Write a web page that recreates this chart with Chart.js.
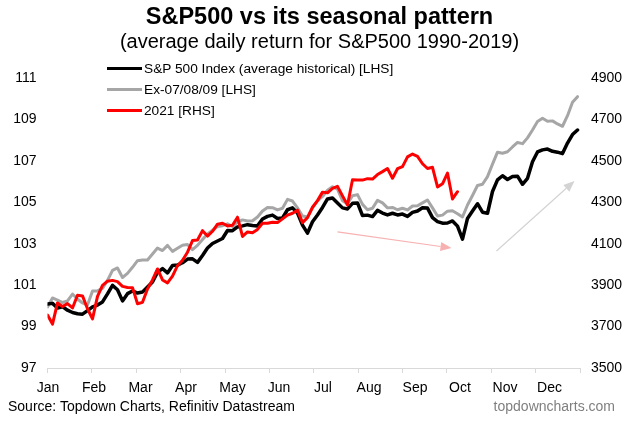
<!DOCTYPE html>
<html>
<head>
<meta charset="utf-8">
<script src="https://cdn.jsdelivr.net/npm/chart.js@4.4.1/dist/chart.umd.min.js"></script>
<style>
    body { margin: 0; background: #fff; }
    #wrap { position: relative; width: 633px; height: 423px; font-family: "Liberation Sans", Arial, sans-serif; color: #000; overflow: hidden; }
    #chart { position: absolute; left: 0; top: 0; }
    .title { position: absolute; left: 0; width: 639px; text-align: center; white-space: nowrap; }
    #title { top: 2px; font-size: 23.5px; font-weight: bold; line-height: 28px; }
    #subtitle { top: 29px; font-size: 20px; line-height: 24px; }
    #legend { position: absolute; left: 107px; top: 58px; font-size: 13.7px; }
    .item { height: 21px; display: flex; align-items: center; white-space: nowrap; }
    .swatch { width: 35px; height: 3px; margin-right: 2px; }
    .foot { position: absolute; top: 398px; font-size: 14px; line-height: 16px; white-space: nowrap; }
    #source { left: 8px; }
    #site { right: 18px; color: #7f7f7f; }
</style>
</head>
<body>
<div id="wrap">
    <canvas id="chart" width="633" height="423"></canvas>
    <div id="title" class="title">S&amp;P500 vs its seasonal pattern</div>
    <div id="subtitle" class="title">(average daily return for S&amp;P500 1990-2019)</div>
    <div id="legend"></div>
    <div id="source" class="foot">Source: Topdown Charts, Refinitiv Datastream</div>
    <div id="site" class="foot">topdowncharts.com</div>
</div>
<script>
const byId = id => document.getElementById(id);

// month names, where the axis tick marks sit and where the names sit (x index units)
const months = ["Jan", "Feb", "Mar", "Apr", "May", "Jun", "Jul", "Aug", "Sep", "Oct", "Nov", "Dec"];
const monthTicks = [0, 8.875, 17.75, 26.625, 35.5, 44.375, 53.25, 62.125, 71, 79.875, 88.75, 97.625, 106.5];
const monthLabelAt = [0.1, 9.3, 18.6, 27.7, 37.0, 46.3, 55.1, 64.3, 73.5, 82.5, 91.5, 100.4];

// S&P 500 seasonal average (LHS)
const avgHistorical = [
    100.09, 100.12, 99.90, 99.96, 99.79, 99.68, 99.62, 99.60, 99.77, 99.95,
    100.04, 100.19, 100.58, 100.99, 100.78, 100.24, 100.59, 100.72, 100.62, 100.67,
    100.91, 101.15, 101.62, 101.80, 101.59, 101.95, 101.97, 102.08, 102.26, 102.27,
    102.10, 102.43, 102.79, 103.01, 103.13, 103.25, 103.64, 103.63, 103.81, 103.86,
    103.92, 103.88, 103.86, 104.19, 104.32, 104.38, 104.22, 104.24, 104.64, 104.73,
    104.48, 103.90, 103.51, 104.06, 104.39, 104.75, 105.16, 105.21, 104.97, 104.73,
    104.68, 104.95, 104.97, 104.36, 104.38, 104.31, 104.61, 104.48, 104.39, 104.47,
    104.39, 104.43, 104.32, 104.51, 104.58, 104.74, 104.72, 104.26, 104.07, 103.99,
    104.00, 104.10, 103.85, 103.22, 104.22, 104.58, 104.93, 104.52, 104.47, 105.52,
    106.08, 106.28, 106.10, 106.24, 106.26, 105.87, 106.16, 106.96, 107.43, 107.53,
    107.57, 107.46, 107.42, 107.35, 107.86, 108.27, 108.49
];

// seasonal average excluding 2007/08/09 (LHS)
const ex070809 = [
    99.95, 100.38, 100.28, 100.16, 100.24, 100.57, 100.33, 100.14, 100.04, 100.72,
    100.72, 100.84, 101.23, 101.71, 101.83, 101.37, 101.57, 101.86, 102.18, 102.21,
    102.21, 102.50, 102.79, 102.67, 102.92, 102.63, 102.78, 102.93, 102.96, 102.71,
    102.92, 103.20, 103.47, 103.65, 103.83, 103.87, 103.96, 103.83, 104.05, 104.15,
    104.10, 104.11, 104.29, 104.58, 104.75, 104.74, 104.63, 104.71, 105.14, 105.06,
    104.73, 104.34, 104.29, 104.73, 105.07, 105.28, 105.58, 105.75, 105.63, 105.08,
    104.93, 105.32, 105.37, 104.90, 104.64, 104.71, 105.09, 104.97, 104.73, 104.75,
    104.64, 104.71, 104.63, 104.82, 104.83, 104.97, 105.11, 104.73, 104.34, 104.38,
    104.57, 104.59, 104.45, 104.29, 104.87, 105.33, 105.81, 105.87, 106.24, 106.84,
    107.42, 107.37, 107.44, 107.67, 107.89, 107.83, 108.11, 108.49, 108.90, 109.06,
    108.91, 108.93, 108.78, 108.67, 109.18, 109.83, 110.10
];

// 2021 S&P 500 level (RHS)
const y2021 = [
    3756, 3712, 3814, 3797, 3811, 3790, 3851, 3848, 3786, 3737,
    3846, 3899, 3919, 3923, 3917, 3894, 3889, 3888, 3810, 3817,
    3881, 3925, 3978, 3925, 3911, 3944, 3994, 4020, 4059, 4115,
    4118, 4163, 4137, 4160, 4194, 4199, 4186, 4189, 4228, 4135,
    4157, 4153, 4169, 4199, 4199, 4204, 4202, 4220, 4238, 4247,
    4262, 4202, 4226, 4276, 4308, 4349, 4346, 4367, 4377, 4331,
    4287, 4409, 4408, 4407, 4414, 4412, 4434, 4448, 4463, 4416,
    4462, 4472, 4519, 4533, 4522, 4486, 4463, 4469, 4374, 4389,
    4441, 4316, 4351
];

// the two hand-drawn arrows, in axis units: [x index, LHS value]
const arrowNotes = [
    {from: [58, 103.57], to: [80.8, 102.79], color: "#f7b1b1"},
    {from: [89.8, 102.65], to: [105.4, 106.03], color: "#d3d3d3"}
];

const xIndex = avgHistorical.map((v, i) => i);

const arrowPlugin = {
    id: "arrows",
    afterDatasetsDraw(chart) {
        const ctx = chart.ctx;
        const sx = chart.scales.x, sy = chart.scales.y;
        arrowNotes.forEach(a => {
            const x1 = sx.getPixelForValue(a.from[0]), y1 = sy.getPixelForValue(a.from[1]);
            const x2 = sx.getPixelForValue(a.to[0]), y2 = sy.getPixelForValue(a.to[1]);
            const ang = Math.atan2(y2 - y1, x2 - x1);
            const head = 11, half = 4.5;
            const bx = x2 - head * Math.cos(ang), by = y2 - head * Math.sin(ang);
            ctx.save();
            ctx.strokeStyle = a.color;
            ctx.fillStyle = a.color;
            ctx.lineWidth = 1.2;
            ctx.beginPath();
            ctx.moveTo(x1, y1);
            ctx.lineTo(bx, by);
            ctx.stroke();
            ctx.beginPath();
            ctx.moveTo(x2, y2);
            ctx.lineTo(bx + half * Math.sin(ang), by - half * Math.cos(ang));
            ctx.lineTo(bx - half * Math.sin(ang), by + half * Math.cos(ang));
            ctx.closePath();
            ctx.fill();
            ctx.restore();
        });
    }
};

function line(label, data, color, width, axis, order) {
    return {
        label,
        data,
        borderColor: color,
        backgroundColor: color,
        borderWidth: width,
        pointRadius: 0,
        tension: 0,
        fill: false,
        borderJoinStyle: "round",
        borderCapStyle: "round",
        yAxisID: axis,
        xAxisID: "x",
        order
    };
}

const tickFont = {family: "'Liberation Sans', Arial, sans-serif", size: 14};

const chart = new Chart(byId("chart"), {
    type: "line",
    data: {
        labels: xIndex,
        datasets: [
            line("S&P 500 Index (average historical) [LHS]", avgHistorical, "#000000", 3.5, "y", 1),
            line("Ex-07/08/09 [LHS]", ex070809, "#a6a6a6", 3, "y", 2),
            line("2021 [RHS]", y2021, "#ff0000", 3, "y2", 0)
        ]
    },
    options: {
        responsive: false,
        animation: false,
        devicePixelRatio: 1,
        layout: {padding: {top: 78, bottom: 28, left: 0, right: 0}},
        plugins: {
            legend: {display: false},
            tooltip: {enabled: false},
            title: {display: false}
        },
        scales: {
            x: {
                type: "linear",
                position: "bottom",
                min: 0,
                max: 106.5,
                grid: {display: true, drawOnChartArea: false, drawTicks: true, tickLength: 5, color: "#d9d9d9"},
                border: {display: true, color: "#d9d9d9", width: 1},
                ticks: {display: false},
                afterBuildTicks: s => { s.ticks = monthTicks.map(v => ({value: v})); },
                afterFit: s => { s.height = 5; }
            },
            xl: {
                type: "linear",
                position: "bottom",
                min: 0,
                max: 106.5,
                grid: {display: false, drawTicks: false},
                border: {display: false},
                ticks: {
                    autoSkip: false,
                    maxRotation: 0,
                    padding: 7,
                    color: "#000",
                    font: tickFont,
                    callback: (v, i) => months[i]
                },
                afterBuildTicks: s => { s.ticks = monthLabelAt.map(v => ({value: v})); },
                afterFit: s => { s.height = 22; }
            },
            y: {
                position: "left",
                min: 97,
                max: 111,
                grid: {display: false, drawTicks: false},
                border: {display: false},
                ticks: {stepSize: 2, padding: 11, color: "#000", font: tickFont},
                afterFit: s => { s.width = 47.5; }
            },
            y2: {
                position: "right",
                min: 3500,
                max: 4900,
                grid: {display: false, drawTicks: false},
                border: {display: false},
                ticks: {stepSize: 200, padding: 11, color: "#000", font: tickFont, callback: v => String(v)},
                afterFit: s => { s.width = 53; }
            }
        }
    },
    plugins: [arrowPlugin]
});

// legend as a stacked list in the top-left corner, built from the datasets
chart.data.datasets.forEach(ds => {
    const item = document.createElement("div");
    item.className = "item";
    const sw = document.createElement("span");
    sw.className = "swatch";
    sw.style.background = ds.borderColor;
    sw.style.height = ds.borderWidth + "px";
    const txt = document.createElement("span");
    txt.textContent = ds.label;
    item.appendChild(sw);
    item.appendChild(txt);
    byId("legend").appendChild(item);
});
</script>
</body>
</html>
